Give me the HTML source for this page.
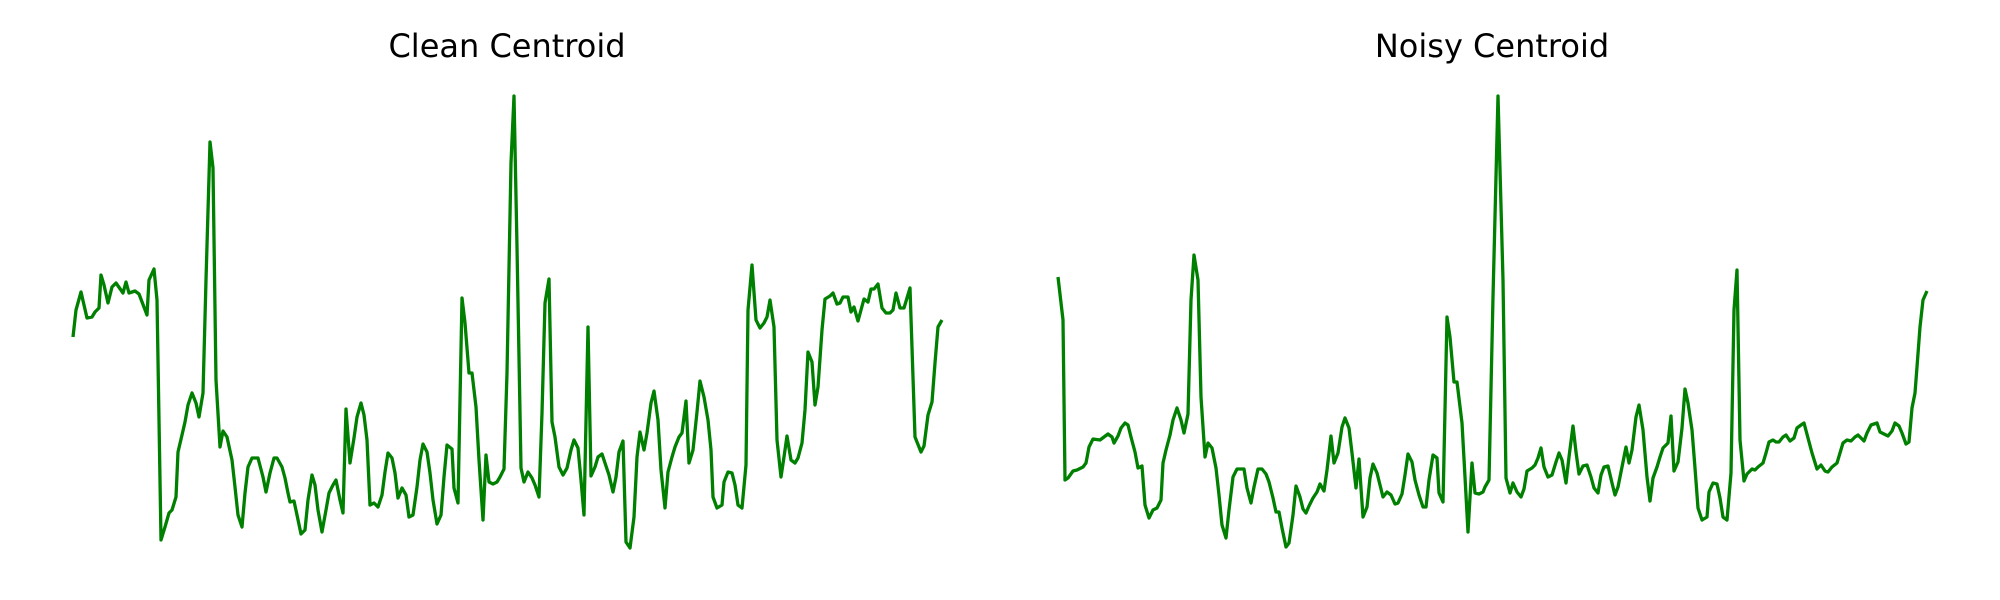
<!DOCTYPE html>
<html>
<head>
<meta charset="utf-8">
<style>
  html, body { margin: 0; padding: 0; background: #ffffff; }
  svg { display: block; }
  .title { font-family: "DejaVu Sans", "Liberation Sans", sans-serif; font-size: 32px; fill: #000; }
</style>
</head>
<body>
<svg id="chart" width="2000" height="600" viewBox="0 0 2000 600" xmlns="http://www.w3.org/2000/svg">
  <text class="title" x="507" y="57" text-anchor="middle">Clean Centroid</text>
  <text class="title" x="1492" y="57" text-anchor="middle">Noisy Centroid</text>
  <g id="panel-clean"></g>
  <g id="panel-noisy"></g>
</svg>
<script>
const cleanTime = [1,4,9,15,20,23,27,29,32,36,40,44,51,54,57,63,67,75,77,82,85,89,93,97,100,104,106,110,113,116,120,124,127,131,134,138,141,144,148,151,155,160,163,166,170,173,176,180,186,191,194,198,202,205,210,213,216,218,222,225,229,233,236,240,243,246,250,254,257,261,264,268,271,274,278,282,285,289,292,295,298,302,306,310,313,316,320,323,326,330,334,337,341,345,348,351,355,358,361,365,369,372,375,380,382,386,390,393,397,400,404,407,411,414,417,421,425,428,432,435,439,442,445,449,452,456,460,463,467,470,473,477,480,483,487,491,495,499,502,506,509,512,516,519,523,526,530,533,537,541,544,547,551,554,558,562,565,568,572,575,579,582,586,589,593,596,600,603,607,610,614,617,621,625,628,632,636,639,641,645,650,652,656,660,663,666,670,674,676,680,684,688,692,695,698,702,705,709,712,715,719,723,726,730,733,736,740,743,746,750,753,758,761,765,768,771,776,779,782,786,789,792,796,799,802,806,810,814,818,821,824,828,832,838,843,849,852,856,860,863,866,870];
const cleanValues = [223,250,268,242,243,248,252,285,275,257,273,277,267,278,267,269,266,245,280,291,260,20,33,47,50,63,108,125,138,155,167,157,143,167,280,418,392,180,113,129,123,100,73,45,33,67,93,102,102,83,68,87,102,102,93,82,67,58,59,45,26,30,60,85,75,50,28,50,67,75,80,60,47,151,97,122,143,157,145,120,55,57,53,65,88,107,102,87,62,72,65,43,45,73,100,116,108,87,60,36,45,83,115,111,72,57,262,237,187,187,153,100,40,105,78,76,78,83,91,187,397,464,313,92,78,88,82,75,63,147,257,281,138,123,93,85,92,110,120,112,80,45,233,84,93,103,106,97,85,68,83,108,119,18,12,43,103,128,110,127,157,169,140,90,52,88,103,113,123,127,159,97,110,148,179,163,140,110,63,52,55,78,88,87,75,55,52,95,250,295,240,232,237,243,260,233,120,83,103,124,100,97,102,117,150,208,198,155,173,230,261,264,267,256,257,263,263,248,253,239,250,261,258,271,271,276,252,247,247,250,267,252,252,272,123,108,114,145,158,197,233,240];
const noisyTime = [0,5,7,10,15,19,25,28,31,35,42,46,50,54,56,60,63,67,70,73,77,80,84,87,91,95,99,103,105,108,112,115,119,123,126,130,133,136,140,143,147,150,154,158,161,164,168,171,175,179,186,189,193,196,200,204,208,211,215,218,221,224,228,231,235,238,242,245,248,251,255,259,262,266,269,273,276,280,284,287,291,294,298,301,305,309,312,315,319,322,325,329,333,337,340,344,347,350,354,357,361,365,368,371,375,379,381,385,389,392,396,399,404,407,410,414,417,421,425,427,431,435,440,445,448,452,455,459,463,466,469,474,477,480,483,486,490,494,498,501,504,508,511,515,518,521,525,529,533,536,540,543,546,550,554,557,560,564,568,571,574,578,581,585,589,592,595,599,602,605,610,613,616,620,624,627,630,634,637,640,644,649,651,655,659,662,665,669,673,676,679,682,686,689,694,697,700,705,708,711,715,718,721,725,728,732,736,739,743,746,750,754,759,763,767,770,774,779,782,785,789,793,797,800,806,809,813,819,822,826,830,834,837,841,844,848,851,854,857,859,862,865,869];
const noisyValues = [283,240,80,82,89,90,93,97,113,121,120,123,126,123,117,124,132,137,135,123,108,92,94,55,42,50,52,60,97,110,125,140,152,140,127,146,260,305,280,163,103,117,112,92,65,35,22,50,83,91,91,72,57,73,91,91,86,78,62,48,48,32,13,17,45,74,63,51,47,54,62,68,76,69,90,124,97,107,133,142,132,107,72,101,43,53,82,96,87,75,63,68,65,56,57,66,85,106,98,80,65,53,53,80,105,102,67,58,243,223,178,178,137,83,28,97,67,66,68,73,80,263,464,280,82,67,77,68,63,71,89,92,95,102,112,93,83,85,98,107,100,77,103,134,108,86,94,95,83,72,67,85,93,94,77,65,73,93,113,97,110,143,155,130,83,59,82,93,103,112,117,144,89,98,132,171,157,130,92,52,40,43,68,77,76,62,43,40,87,250,290,120,79,86,91,90,93,97,107,118,120,118,118,123,125,119,122,132,135,137,122,107,91,95,89,88,93,97,107,117,120,119,123,125,119,127,135,137,128,126,124,129,137,134,127,116,118,152,167,193,233,260,269];

const valueDomain = [0, 480];
const plotTop = 80, plotBottom = 560;
function yScale(v) {
  return plotBottom - (v - valueDomain[0]) / (valueDomain[1] - valueDomain[0]) * (plotBottom - plotTop);
}
function makeXScale(left) {
  return function (t) { return left + t; };
}
function drawSeries(groupId, times, values, left, name) {
  const g = document.getElementById(groupId);
  const xs = makeXScale(left);
  let d = '';
  for (let i = 0; i < times.length; i++) {
    d += (i === 0 ? 'M' : 'L') + xs(times[i]).toFixed(1) + ',' + yScale(values[i]).toFixed(1);
  }
  const path = document.createElementNS('http://www.w3.org/2000/svg', 'path');
  path.setAttribute('d', d);
  path.setAttribute('fill', 'none');
  path.setAttribute('stroke', '#008000');
  path.setAttribute('stroke-width', '3.3');
  path.setAttribute('stroke-linejoin', 'round');
  
  
  g.appendChild(path);
}
drawSeries('panel-clean', cleanTime, cleanValues, 72, 'clean-centroid-line');
drawSeries('panel-noisy', noisyTime, noisyValues, 1058, 'noisy-centroid-line');
</script>
</body>
</html>
